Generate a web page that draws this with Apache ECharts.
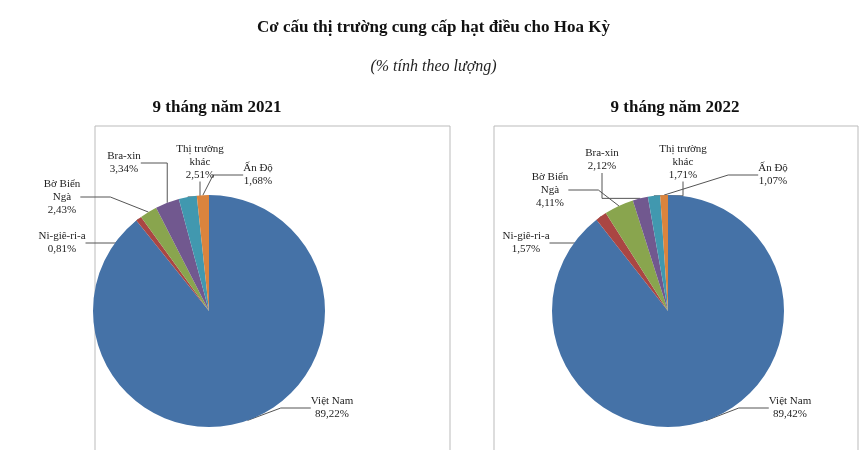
<!DOCTYPE html>
<html><head><meta charset="utf-8">
<script src="https://cdn.jsdelivr.net/npm/echarts@6/dist/echarts.min.js"></script>
<style>html,body{margin:0;padding:0;background:#fff}#c{width:867px;height:450px}</style>
</head><body><div id="c"></div>
<script>
const categories = ['Việt Nam','Ni-giê-ri-a','Bờ Biển\nNgà','Bra-xin','Thị trường\nkhác','Ấn Độ'];
const values2021 = [89.22,0.81,2.43,3.34,2.51,1.68];
const values2022 = [89.42,1.57,4.11,2.12,1.71,1.07];
const colors = ['#4572A7','#AA4643','#89A54E','#71588F','#4198AF','#DB843D'];
const pos2021 = [[332,408],[62,243],[62,197],[124,163],[200,162],[258,175]];
const pos2022 = [[790,408],[526,243],[550,190],[602,160],[683,162],[773,175]];
const fmt = v => v.toFixed(2).replace('.',',') + '%';
const font = '"Liberation Serif", "DejaVu Serif", serif';
function mk(vals, cx, pos){
  return {
    type:'pie', center:[cx,311], radius:116, startAngle:90, clockwise:true,
    animation:false,
    data: categories.map((n,i)=>({name:n,value:vals[i],itemStyle:{color:colors[i]}})),
    itemStyle:{borderColor:'#fff',borderWidth:0},
    label:{show:true,fontFamily:font,fontSize:11,color:'#222',lineHeight:13,align:'center',
      formatter:p=>p.name+'\n'+fmt(p.value)},
    labelLine:{show:true,lineStyle:{color:'#555',width:1}},
    labelLayout:p=>({x:pos[p.dataIndex][0],y:pos[p.dataIndex][1],align:'center',verticalAlign:'middle'}),
    emphasis:{disabled:true}
  };
}
const chart = echarts.init(document.getElementById('c'));
chart.setOption({
  backgroundColor:'#fff',
  title:[
    {text:'Cơ cấu thị trường cung cấp hạt điều cho Hoa Kỳ',left:'center',top:14,textStyle:{fontFamily:font,fontSize:17,fontWeight:'bold',color:'#111'}},
    {text:'(% tính theo lượng)',left:'center',top:54,textStyle:{fontFamily:font,fontSize:16,fontStyle:'italic',fontWeight:'normal',color:'#222'}},
    {text:'9 tháng năm 2021',left:212,top:94,textAlign:'center',textStyle:{fontFamily:font,fontSize:17,fontWeight:'bold',color:'#111'}},
    {text:'9 tháng năm 2022',left:670,top:94,textAlign:'center',textStyle:{fontFamily:font,fontSize:17,fontWeight:'bold',color:'#111'}}
  ],
  graphic:[
    {type:'rect',shape:{x:95,y:126,width:355,height:330},style:{fill:'none',stroke:'#bbb',lineWidth:1},z:-1},
    {type:'rect',shape:{x:494,y:126,width:364,height:330},style:{fill:'none',stroke:'#bbb',lineWidth:1},z:-1}
  ],
  series:[mk(values2021,209,pos2021), mk(values2022,668,pos2022)]
});
</script></body></html>
